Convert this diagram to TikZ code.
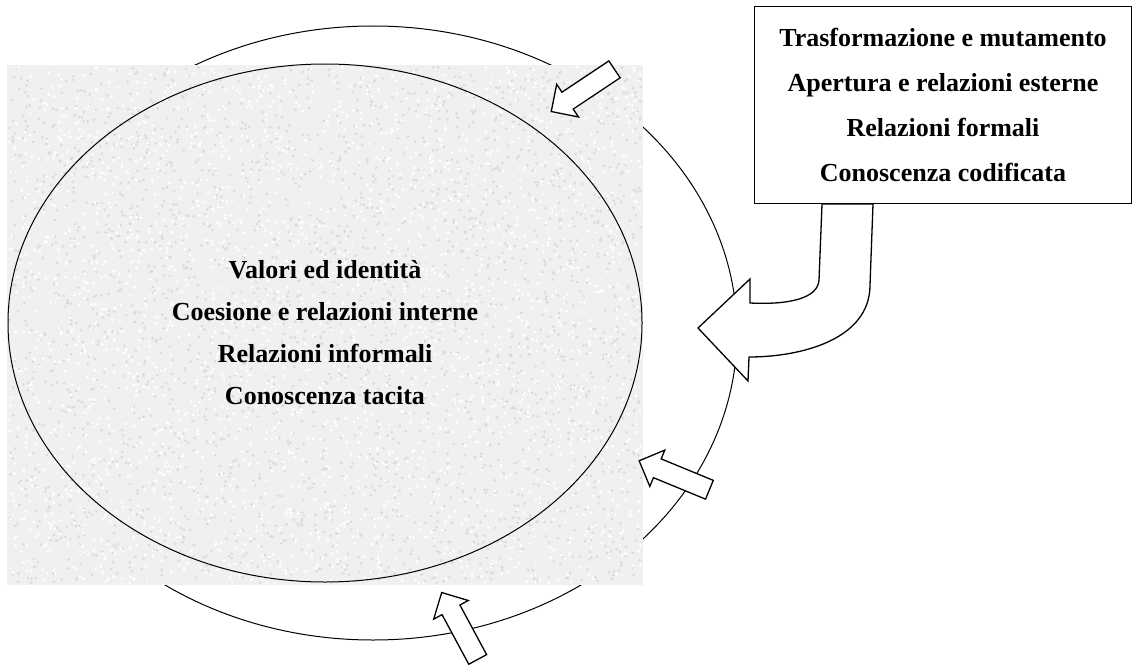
\documentclass[tikz,border=0pt]{standalone}
\usepackage{fontspec}
\setmainfont{Liberation Serif}
\usetikzlibrary{shapes.geometric,shapes.arrows}

\begin{document}
\begin{tikzpicture}[
        x=1pt, y=-1pt,
        ring/.style = {
            draw, ellipse,
            line width=1pt,
            inner sep=0pt,
        },
        voci/.style = {
            align=center,
            font=\fontsize{26}{42}\selectfont\bfseries,
        },
        infobox/.style = {
            draw, fill=white,
            line width=1.2pt,
            minimum width=377pt,
            minimum height=197pt,
            inner sep=0pt,
        },
        smallarrow/.style = {
            draw, fill=white, single arrow,
            line width=1.3pt,
            anchor=tail,
            minimum height=76pt,
            inner sep=9.5pt,
            single arrow head extend=9.5pt,
        },
        ]
        \useasboundingbox (0,0) rectangle (1139,666);

        % Anello esterno
        \node[ring, minimum width=728pt, minimum height=614pt] (outer) at (373,333) {};

        % Sfondo grigio
        \fill[gray!12] (7,65) rectangle (643,585);
        \pgfmathsetseed{17}
        \foreach \k in {1,...,2600} {
            \pgfmathsetmacro{\px}{9+632*rnd}
            \pgfmathsetmacro{\py}{67+516*rnd}
            \fill[gray!28] (\px,\py) circle[radius=1.5pt];
        }
        \foreach \k in {1,...,2600} {
            \pgfmathsetmacro{\px}{9+632*rnd}
            \pgfmathsetmacro{\py}{67+516*rnd}
            \fill[white] (\px,\py) circle[radius=1.5pt];
        }

        % Nucleo
        \node[ring, minimum width=634pt, minimum height=518pt] (core) at (325,323) {};
        \node[voci] (coretext) at (325,333) {Valori ed identità\\Coesione e relazioni interne\\Relazioni informali\\Conoscenza tacita};

        % Riquadro esterno
        \node[infobox] (extbox) at (943,105) {};
        \node[voci, font=\fontsize{26}{45}\selectfont\bfseries] (extext) at (extbox.center) {Trasformazione e mutamento\\Apertura e relazioni esterne\\Relazioni formali\\Conoscenza codificata};

        % Freccia curva
        \draw[line width=1.3pt, fill=white, line join=miter]
            (822,204) -- (819,280)
            .. controls (818,298) and (790,305) .. (750,303)
            -- (750,279) -- (698,328) -- (748,381) -- (749,357)
            .. controls (800,357) and (870,340) .. (870,285)
            -- (873,204) -- cycle;

        % Frecce piccole
        \node[smallarrow, rotate=213.7] (arrowtop) at (615,69) {};
        \node[smallarrow, rotate=157.6] (arrowright) at (710,490) {};
        \node[smallarrow, rotate=118.3] (arrowbottom) at (478,660) {};
\end{tikzpicture}
\end{document}
